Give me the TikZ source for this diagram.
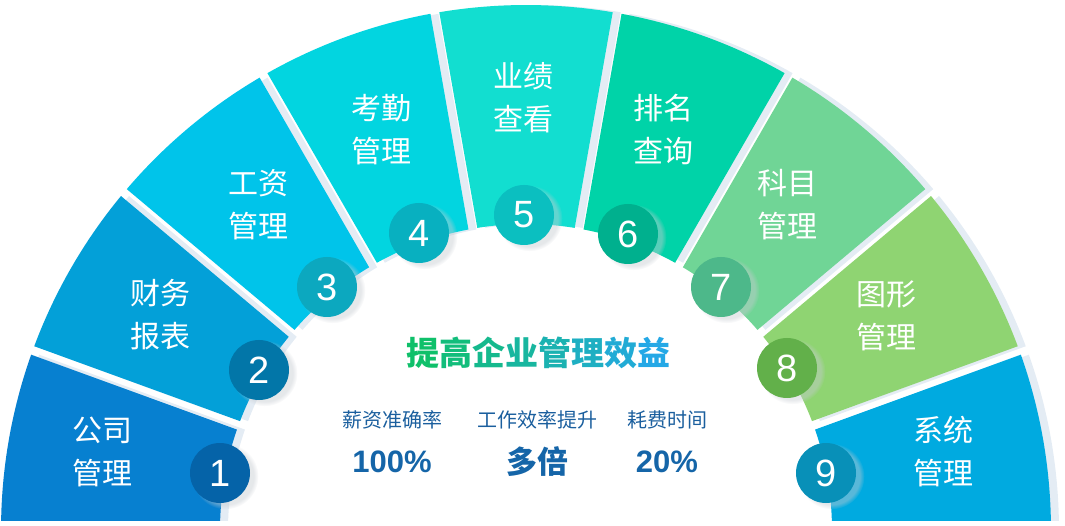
\documentclass[tikz,border=0pt]{standalone}
\usepackage{fontspec}
\setmainfont{Noto Sans CJK SC}
\newfontfamily\numfont{Liberation Sans}
\usetikzlibrary{shadows}

\definecolor{segA}{HTML}{0780D0}
\definecolor{segB}{HTML}{03A0D8}
\definecolor{segC}{HTML}{00C4EA}
\definecolor{segD}{HTML}{02D5E0}
\definecolor{segE}{HTML}{12DED0}
\definecolor{segF}{HTML}{00D3A8}
\definecolor{segG}{HTML}{70D596}
\definecolor{segH}{HTML}{8FD472}
\definecolor{segI}{HTML}{00AAE0}
\definecolor{numA}{HTML}{0563A8}
\definecolor{numB}{HTML}{0276A8}
\definecolor{numC}{HTML}{0CA8BF}
\definecolor{numD}{HTML}{08B0C0}
\definecolor{numE}{HTML}{0BBFC0}
\definecolor{numF}{HTML}{00B08E}
\definecolor{numG}{HTML}{4DB88A}
\definecolor{numH}{HTML}{62B04A}
\definecolor{numI}{HTML}{0890B8}
\definecolor{ringgrey}{HTML}{E4ECF4}
\definecolor{titleA}{HTML}{0FC06A}
\definecolor{titleB}{HTML}{24A8E6}
\definecolor{subblue}{HTML}{1B5F9E}
\definecolor{valblue}{HTML}{1565A8}

\begin{document}
\begin{tikzpicture}[x=1pt, y=1pt,
  num/.style={circle, minimum size=60pt, inner sep=0pt, text=white,
    font=\numfont\fontsize{38}{38}\selectfont,
    circular drop shadow={shadow xshift=5pt, shadow yshift=-3pt, shadow scale=1.1, fill=ringgrey!70!gray, opacity=0.45}},
  lbl/.style={text=white, align=center, font=\fontsize{30}{43}\selectfont},
  sub/.style={text=subblue, font=\fontsize{20}{20}\selectfont},
  val/.style={text=valblue, font=\bfseries\fontsize{31}{31}\selectfont}]
\useasboundingbox (0,0) rectangle (1065,525);
\pgfmathsetmacro\Ro{525}
\pgfmathsetmacro\Ri{306}
\pgfmathsetmacro\dO{4.5/525*180/pi}
\pgfmathsetmacro\dI{4.5/306*180/pi}

\begin{scope}
\clip (0,5) rectangle (1065,525);
\begin{scope}[shift={(526,-5)}]
  % grey shadow behind each piece
  \foreach \i in {1,...,9} {
    \pgfmathsetmacro\la{\i==9 ? -6 : 180-20*\i}
    \pgfmathsetmacro\ua{\i==1 ? 186 : 200-20*\i}
    \pgfmathsetmacro\oa{\la+\dO} \pgfmathsetmacro\ob{\ua-\dO}
    \pgfmathsetmacro\ia{\la+\dI} \pgfmathsetmacro\ib{\ua-\dI}
    \fill[ringgrey, xshift=8pt] (\oa:\Ro) arc[start angle=\oa, end angle=\ob, radius=\Ro]
      -- (\ib:\Ri) arc[start angle=\ib, end angle=\ia, radius=\Ri] -- cycle;
  }
  \foreach \i/\segcol in {1/segA,2/segB,3/segC,4/segD,5/segE,6/segF,7/segG,8/segH,9/segI} {
    \pgfmathsetmacro\la{\i==9 ? -6 : 180-20*\i}
    \pgfmathsetmacro\ua{\i==1 ? 186 : 200-20*\i}
    \pgfmathsetmacro\oa{\la+\dO} \pgfmathsetmacro\ob{\ua-\dO}
    \pgfmathsetmacro\ia{\la+\dI} \pgfmathsetmacro\ib{\ua-\dI}
    \fill[\segcol] (\oa:\Ro) arc[start angle=\oa, end angle=\ob, radius=\Ro]
      -- (\ib:\Ri) arc[start angle=\ib, end angle=\ia, radius=\Ri] -- cycle;
  }
\end{scope}
\end{scope}

\foreach \i/\numcol/\nx/\ny/\lx/\ly/\txt in {
    1/numA/220/52/102/73/{公司\\管理},   2/numB/259/155/160/210/{财务\\报表},
    3/numC/327/238/258/320/{工资\\管理}, 4/numD/419/292/381/395/{考勤\\管理},
    5/numE/524/310/523/427/{业绩\\查看}, 6/numF/628/291/663/395/{排名\\查询},
    7/numG/721/238/787/320/{科目\\管理}, 8/numH/787/157/886/209/{图形\\管理},
    9/numI/826/52/943/73/{系统\\管理}} {
  \node[num, fill=\numcol] (n\i) at (\nx,\ny) {\i};
  \node[lbl] (t\i) at (\lx,\ly) {\txt};
}

\node[font=\bfseries\fontsize{33}{33}\selectfont] (title) at (538,172)
  {\textcolor{titleB!0!titleA}{提}\textcolor{titleB!14!titleA}{高}\textcolor{titleB!28!titleA}{企}\textcolor{titleB!43!titleA}{业}\textcolor{titleB!57!titleA}{管}\textcolor{titleB!71!titleA}{理}\textcolor{titleB!86!titleA}{效}\textcolor{titleB!100!titleA}{益}};

\node[sub] (s1) at (392,105) {薪资准确率};
\node[sub] (s2) at (537,105) {工作效率提升};
\node[sub] (s3) at (667,105) {耗费时间};
\node[val, font=\numfont\bfseries\fontsize{31}{31}\selectfont] (v1) at (392,63) {100\%};
\node[val] (v2) at (537,63) {多倍};
\node[val, font=\numfont\bfseries\fontsize{31}{31}\selectfont] (v3) at (667,63) {20\%};
\end{tikzpicture}
\end{document}
